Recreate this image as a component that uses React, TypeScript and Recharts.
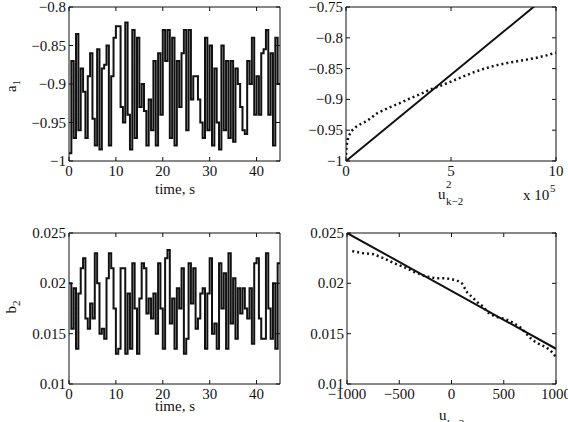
import React from "react";
import { LineChart, Line, XAxis, YAxis, ReferenceArea } from "recharts";

const FONT = "'Liberation Serif', 'Times New Roman', serif";
const INK = "#111";

// sampled every 0.5 s, 0..45 s
const STEP = 0.5;
const a1Values = [
  -0.99, -0.87, -0.97, -0.835, -0.96, -0.88, -0.91, -0.97, -0.89, -0.86,
  -0.945, -0.98, -0.855, -0.985, -0.88, -0.875, -0.85, -0.98, -0.89, -0.84,
  -0.825, -0.825, -0.93, -0.95, -0.82, -0.94, -0.985, -0.83, -0.97, -0.84,
  -0.93, -0.9, -0.935, -0.98, -0.92, -0.96, -0.87, -0.98, -0.86, -0.94,
  -0.83, -0.87, -0.83, -0.97, -0.84, -0.98, -0.87, -0.93, -0.86, -0.83,
  -0.96, -0.83, -0.92, -0.89, -0.89, -0.92, -0.95, -0.97, -0.84, -0.96,
  -0.85, -0.98, -0.88, -0.95, -0.985, -0.85, -0.96, -0.87, -0.97, -0.87,
  -0.975, -0.88, -0.9, -0.93, -0.96, -0.965, -0.87, -0.9, -0.84, -0.94,
  -0.89, -0.94, -0.86, -0.855, -0.83, -0.94, -0.86, -0.98, -0.84, -0.9,
  -0.9,
];
const b2Values = [
  0.02, 0.0155, 0.0195, 0.0135, 0.019, 0.0215, 0.0225, 0.0165, 0.0155, 0.018,
  0.0165, 0.023, 0.02, 0.015, 0.0155, 0.0145, 0.0205, 0.023, 0.0215, 0.0175,
  0.013, 0.0135, 0.0215, 0.0215, 0.013, 0.019, 0.0135, 0.022, 0.0175, 0.013,
  0.0185, 0.022, 0.0215, 0.017, 0.0185, 0.0165, 0.019, 0.015, 0.022, 0.0175,
  0.0135, 0.0225, 0.0233, 0.016, 0.0185, 0.0135, 0.0195, 0.0175, 0.0215, 0.013,
  0.0145, 0.022, 0.018, 0.0215, 0.0155, 0.0165, 0.019, 0.0195, 0.0135, 0.019,
  0.0225, 0.015, 0.016, 0.0135, 0.022, 0.0175, 0.021, 0.0135, 0.023, 0.016,
  0.0205, 0.0145, 0.0195, 0.017, 0.0195, 0.0175, 0.0165, 0.0195, 0.014, 0.022,
  0.0225, 0.0165, 0.0145, 0.0145, 0.023, 0.0175, 0.0145, 0.02, 0.0135, 0.022,
  0.022,
];

// a1 vs u^2 (x 10^5)
const uSq = [0, 0.02, 0.05, 0.1, 0.2, 0.3, 0.5, 0.7, 1, 1.5, 2, 2.5, 3, 3.5, 4, 4.5, 5, 5.5, 6, 6.5, 7, 7.5, 8, 8.5, 9, 9.5, 10];
const a1Est = [
  -0.99, -0.98, -0.97, -0.962, -0.955, -0.95, -0.944, -0.94, -0.935, -0.922,
  -0.914, -0.907, -0.899, -0.892, -0.884, -0.878, -0.871, -0.864, -0.857, -0.851,
  -0.846, -0.842, -0.839, -0.836, -0.833, -0.829, -0.824,
];
const a1FitX = [0, 10];
const a1FitY = [-1, -0.72];

// b2 vs u
const uk = [-950, -850, -750, -650, -550, -450, -350, -250, -150, -50, 0, 50, 100, 150, 200, 250, 300, 350, 400, 450, 500, 550, 600, 650, 700, 750, 800, 850, 900, 950, 1000];
const b2Est = [
  0.0232, 0.023, 0.0229, 0.0225, 0.022, 0.0216, 0.0211, 0.0207, 0.0205, 0.0205,
  0.0204, 0.0203, 0.02, 0.0191, 0.0186, 0.0181, 0.0177, 0.0171, 0.0168, 0.0166,
  0.0165, 0.0163, 0.016, 0.0157, 0.0152, 0.0146, 0.0142, 0.0139, 0.0137, 0.0133,
  0.0127,
];
const b2FitX = [-1000, 1000];
const b2FitY = [0.025, 0.0135];

const timeTicks = [0, 10, 20, 30, 40];
const uSqTicks = [0, 5, 10];
const ukTicks = [-1000, -500, 0, 500, 1000];
const a1Ticks = [-1, -0.95, -0.9, -0.85, -0.8];
const a1EstTicks = [-1, -0.95, -0.9, -0.85, -0.8, -0.75];
const b2Ticks = [0.01, 0.015, 0.02, 0.025];

const pairs = (xs: number[], ys: number[]) => xs.map((x, i) => ({ x, y: ys[i] }));
const fmt = (v: number) => String(v).replace("-", "\u2212");

type Box = { l: number; r: number; t: number; b: number };

const xTick = (box: Box) => (props: any) => {
  const { x, payload } = props;
  return (
    <g>
      <line x1={x} x2={x} y1={box.b} y2={box.b - 4} stroke={INK} />
      <line x1={x} x2={x} y1={box.t} y2={box.t + 4} stroke={INK} />
      <text x={x} y={box.b + 15} textAnchor="middle" fontFamily={FONT} fontSize={15} fill={INK}>
        {fmt(payload.value)}
      </text>
    </g>
  );
};

const yTick = (box: Box) => (props: any) => {
  const { y, payload } = props;
  return (
    <g>
      <line x1={box.l} x2={box.l + 4} y1={y} y2={y} stroke={INK} />
      <line x1={box.r - 4} x2={box.r} y1={y} y2={y} stroke={INK} />
      <text x={box.l - 3} y={y + 5} textAnchor="end" fontFamily={FONT} fontSize={15} fill={INK}>
        {fmt(payload.value)}
      </text>
    </g>
  );
};

interface PanelProps {
  left: number; top: number; width: number; height: number;
  box: Box;
  xDomain: [number, number]; yDomain: [number, number];
  xTicks: number[]; yTicks: number[];
  children: React.ReactNode;
}

function Panel({ left, top, width, height, box, xDomain, yDomain, xTicks, yTicks, children }: PanelProps) {
  return (
    <div style={{ position: "absolute", left, top, width, height }}>
      <LineChart width={width} height={height}
        margin={{ top: box.t, right: width - box.r, bottom: 0, left: 0 }}>
        <XAxis type="number" dataKey="x" domain={xDomain} ticks={xTicks} interval={0}
          allowDataOverflow tickLine={false} axisLine={false} height={height - box.b}
          tick={xTick(box)} />
        <YAxis type="number" domain={yDomain} ticks={yTicks} interval={0}
          allowDataOverflow tickLine={false} axisLine={false} width={box.l}
          tick={yTick(box)} />
        <ReferenceArea x1={xDomain[0]} x2={xDomain[1]} y1={yDomain[0]} y2={yDomain[1]}
          fill="none" stroke={INK} strokeWidth={1} />
        {children}
      </LineChart>
    </div>
  );
}

export default function App() {
  const a1Series = a1Values.map((y, i) => ({ x: i * STEP, y }));
  const b2Series = b2Values.map((y, i) => ({ x: i * STEP, y }));
  const txt = { fontFamily: FONT, fill: INK };

  return (
    <div style={{ position: "absolute", left: 0, top: 0, width: 568, height: 422,
      background: "#fff", overflow: "hidden" }}>
      <Panel left={0} top={0} width={290} height={210} box={{ l: 69, r: 280, t: 7, b: 161 }}
        xDomain={[0, 45]} yDomain={[-1, -0.8]} xTicks={timeTicks} yTicks={a1Ticks}>
        <Line data={a1Series} dataKey="y" type="stepAfter" stroke={INK} strokeWidth={2}
          dot={false} isAnimationActive={false} />
      </Panel>

      <Panel left={290} top={0} width={278} height={210} box={{ l: 56, r: 266, t: 7, b: 161 }}
        xDomain={[0, 10]} yDomain={[-1, -0.75]} xTicks={uSqTicks} yTicks={a1EstTicks}>
        <Line data={pairs(a1FitX, a1FitY)} dataKey="y" type="linear" stroke={INK} strokeWidth={2}
          dot={false} isAnimationActive={false} />
        <Line data={pairs(uSq, a1Est)} dataKey="y" type="linear" stroke={INK} strokeWidth={2.5}
          strokeDasharray="2 3" dot={false} isAnimationActive={false} />
      </Panel>

      <Panel left={0} top={210} width={290} height={212} box={{ l: 69, r: 280, t: 23, b: 174 }}
        xDomain={[0, 45]} yDomain={[0.01, 0.025]} xTicks={timeTicks} yTicks={b2Ticks}>
        <Line data={b2Series} dataKey="y" type="stepAfter" stroke={INK} strokeWidth={2}
          dot={false} isAnimationActive={false} />
      </Panel>

      <Panel left={290} top={210} width={278} height={212} box={{ l: 57, r: 266, t: 23, b: 174 }}
        xDomain={[-1000, 1000]} yDomain={[0.01, 0.025]} xTicks={ukTicks} yTicks={b2Ticks}>
        <Line data={pairs(b2FitX, b2FitY)} dataKey="y" type="linear" stroke={INK} strokeWidth={2}
          dot={false} isAnimationActive={false} />
        <Line data={pairs(uk, b2Est)} dataKey="y" type="linear" stroke={INK} strokeWidth={2.5}
          strokeDasharray="2 3" dot={false} isAnimationActive={false} />
      </Panel>

      {/* axis labels */}
      <svg width={568} height={422} style={{ position: "absolute", left: 0, top: 0, pointerEvents: "none" }}>
        <text transform="translate(16,86) rotate(-90)" textAnchor="middle" fontSize={15} {...txt}>
          a<tspan dy={4} fontSize={11}>1</tspan>
        </text>
        <text x={175} y={194} textAnchor="middle" fontSize={15} {...txt}>time, s</text>
        <text x={438} y={199} fontSize={15} {...txt}>u</text>
        <text x={446} y={188} fontSize={11} {...txt}>2</text>
        <text x={446} y={205} fontSize={11} {...txt}>k{"\u2212"}2</text>
        <text x={523} y={200} fontSize={15} {...txt}>x 10</text>
        <text x={550} y={192} fontSize={11} {...txt}>5</text>

        <text transform="translate(16,307) rotate(-90)" textAnchor="middle" fontSize={15} {...txt}>
          b<tspan dy={4} fontSize={11}>2</tspan>
        </text>
        <text x={175} y={411} textAnchor="middle" fontSize={15} {...txt}>time, s</text>
        <text x={439} y={420} fontSize={15} {...txt}>u</text>
        <text x={447} y={427} fontSize={11} {...txt}>k{"\u2212"}2</text>
      </svg>
    </div>
  );
}
